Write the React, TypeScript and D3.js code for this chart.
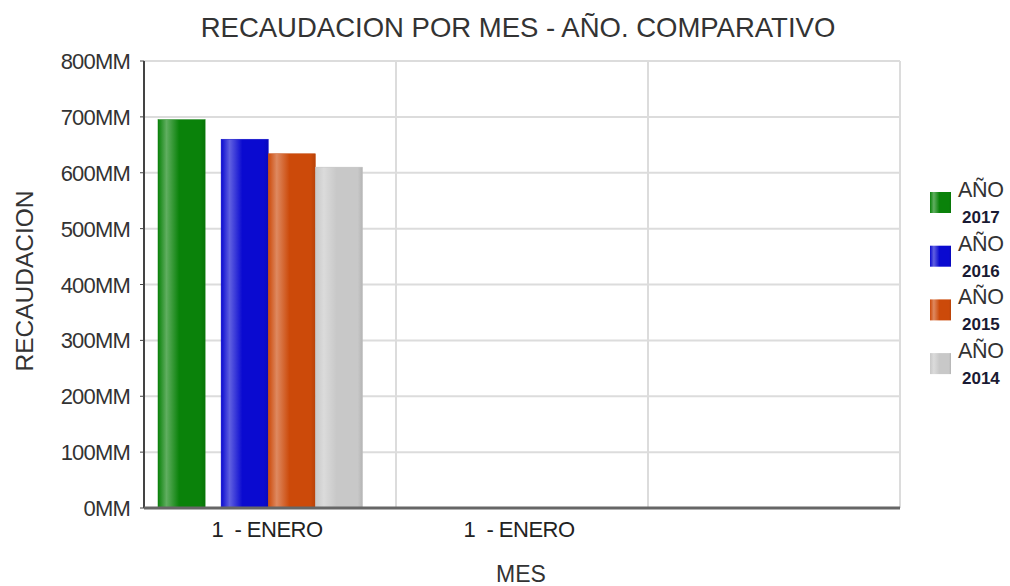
import React from "react";
import * as d3 from "d3";

const categories = ["1  - ENERO", "1  - ENERO", ""];
const seriesNames = ["2017", "2016", "2015", "2014"];
const seriesColors = ["#0a820a", "#0a0ad0", "#cc4a0a", "#c8c8c8"];
const seriesValues = [
  [695, 0, 0],
  [660, 0, 0],
  [634, 0, 0],
  [610, 0, 0],
];
const yTicks = [0, 100, 200, 300, 400, 500, 600, 700, 800];

const W = 1010, H = 586;
const L = 144, R = 900, T = 61, B = 508;
const FONT = "'Liberation Sans', Arial, sans-serif";

export default function App() {
  const x = d3.scaleBand<number>().domain(categories.map((_, i) => i)).range([L, R]).padding(0);
  const y = d3.scaleLinear().domain([0, 800]).range([B, T]);
  const bw = x.bandwidth();
  const barW = bw * 0.187;
  const inner = 14;
  const gap = 16;
  const barX = (ci: number, si: number) =>
    (x(ci) as number) + inner + si * barW + (si > 0 ? gap : 0);

  const lighten = (c: string, k: number) => d3.interpolateRgb(c, "#ffffff")(k);
  const darken = (c: string, k: number) => d3.interpolateRgb(c, "#000000")(k);

  return (
    <svg width={W} height={H} style={{ display: "block", position: "absolute", left: 0, top: 0 }}>
      <defs>
        {seriesColors.map((c, i) => (
          <linearGradient key={i} id={`g${i}`} x1="0" x2="1" y1="0" y2="0">
            <stop offset="0%" stopColor={c} />
            <stop offset="18%" stopColor={lighten(c, 0.35)} />
            <stop offset="45%" stopColor={c} />
            <stop offset="90%" stopColor={c} />
            <stop offset="100%" stopColor={darken(c, 0.1)} />
          </linearGradient>
        ))}
      </defs>
      <rect width={W} height={H} fill="#fff" />
      <text x={518} y={37} textAnchor="middle" fontFamily={FONT} fontSize={27.5} fill="#333">
        RECAUDACION POR MES - AÑO. COMPARATIVO
      </text>
      {yTicks.map((t) => (
        <line key={t} x1={L} x2={R} y1={y(t)} y2={y(t)} stroke="#dcdcdc" strokeWidth={2} />
      ))}
      {categories.map((_, i) => (
        <line key={i} x1={(x(i) as number) + bw} x2={(x(i) as number) + bw} y1={T} y2={B}
          stroke="#dcdcdc" strokeWidth={2} />
      ))}
      {seriesValues.map((vals, si) =>
        vals.map((v, ci) =>
          v > 0 ? (
            <rect key={`${si}-${ci}`} x={barX(ci, si)} y={y(v)} width={barW} height={B - y(v)}
              fill={`url(#g${si})`} stroke={darken(seriesColors[si], 0.05)} strokeWidth={0.5} />
          ) : null
        )
      )}
      <line x1={L} x2={L} y1={T} y2={B} stroke="#444" strokeWidth={2} />
      {yTicks.map((t) => (
        <line key={t} x1={L - 4} x2={L} y1={y(t)} y2={y(t)} stroke="#444" strokeWidth={1} />
      ))}
      <line x1={L} x2={R} y1={B} y2={B} stroke="#666" strokeWidth={3} />
      {yTicks.map((t) => (
        <text key={t} x={130} y={y(t) + 8} textAnchor="end" fontFamily={FONT} fontSize={22}
          fill="#333" letterSpacing={-0.8}>
          {t}MM
        </text>
      ))}
      {categories.map((c, i) => (
        <text key={i} x={(x(i) as number) + bw / 2 - 3} y={537} textAnchor="middle" fontFamily={FONT}
          fontSize={22} fill="#222" letterSpacing={-0.5} style={{ whiteSpace: "pre" }}>
          {c}
        </text>
      ))}
      <text x={521} y={582} textAnchor="middle" fontFamily={FONT} fontSize={23} fill="#333">MES</text>
      <text transform="translate(33,281) rotate(-90)" textAnchor="middle" fontFamily={FONT}
        fontSize={24.5} fill="#333">RECAUDACION</text>
      {seriesNames.map((n, i) => {
        const yy = 192 + i * 53.7;
        return (
          <g key={n}>
            <rect x={930} y={yy} width={21} height={21} fill={`url(#g${i})`} />
            <text x={958} y={yy + 5} fontFamily={FONT} fontSize={21.5} fill="#333" letterSpacing={-0.3}>AÑO</text>
            <text x={962} y={yy + 31} fontFamily={FONT} fontSize={17} fontWeight="bold" fill="#1a1a33">{n}</text>
          </g>
        );
      })}
    </svg>
  );
}
